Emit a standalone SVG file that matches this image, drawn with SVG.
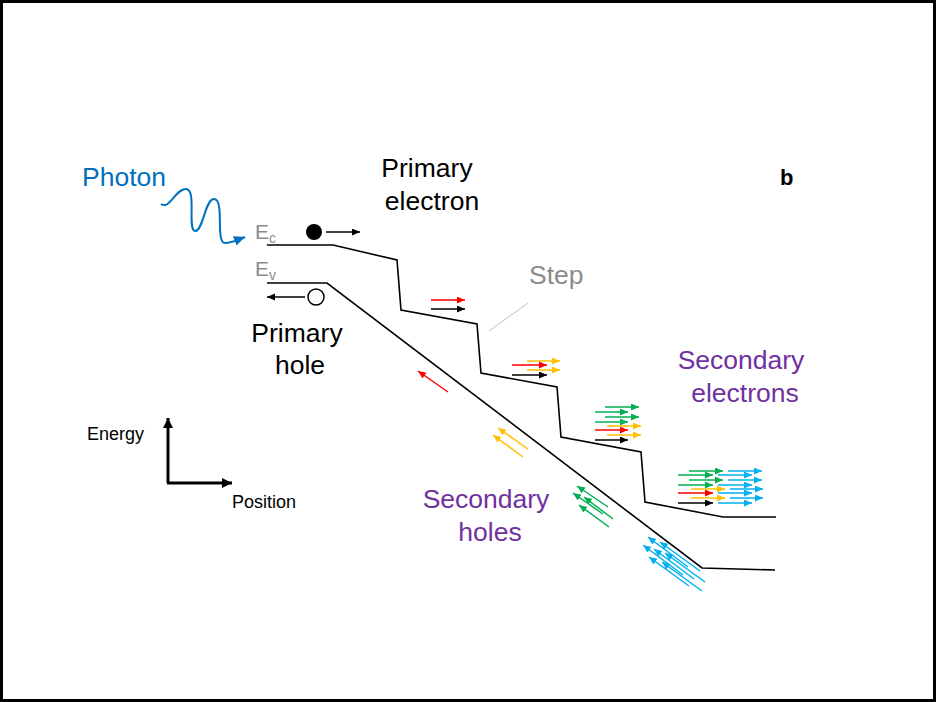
<svg xmlns="http://www.w3.org/2000/svg" width="936" height="702" viewBox="0 0 936 702">
<defs>
<style>
text{font-family:"Liberation Sans",Arial,sans-serif}
.band{fill:none;stroke:#000;stroke-width:1.6}
.a{fill:none;stroke-width:1.5}
.k{stroke:#000;marker-end:url(#mk)}
.r{stroke:#FF0000;marker-end:url(#mr)}
.y{stroke:#FFC000;marker-end:url(#my)}
.g{stroke:#00B050;marker-end:url(#mg)}
.b{stroke:#00B0F0;marker-end:url(#mb)}
.big{font-size:26.5px}
.purple{fill:#7030A0}
</style>
<marker id="mk" markerUnits="userSpaceOnUse" markerWidth="10" markerHeight="8" refX="8" refY="3.5" orient="auto"><path d="M0,0L8,3.5L0,7z" fill="#000"/></marker>
<marker id="mr" markerUnits="userSpaceOnUse" markerWidth="10" markerHeight="8" refX="8" refY="3.5" orient="auto"><path d="M0,0L8,3.5L0,7z" fill="#FF0000"/></marker>
<marker id="my" markerUnits="userSpaceOnUse" markerWidth="10" markerHeight="8" refX="8" refY="3.5" orient="auto"><path d="M0,0L8,3.5L0,7z" fill="#FFC000"/></marker>
<marker id="mg" markerUnits="userSpaceOnUse" markerWidth="10" markerHeight="8" refX="8" refY="3.5" orient="auto"><path d="M0,0L8,3.5L0,7z" fill="#00B050"/></marker>
<marker id="mb" markerUnits="userSpaceOnUse" markerWidth="10" markerHeight="8" refX="8" refY="3.5" orient="auto"><path d="M0,0L8,3.5L0,7z" fill="#00B0F0"/></marker>
<marker id="mph" markerUnits="userSpaceOnUse" markerWidth="14" markerHeight="12" refX="11" refY="5" orient="auto"><path d="M0,0L11,5L0,10z" fill="#0070C0"/></marker>
<marker id="max" markerUnits="userSpaceOnUse" markerWidth="12" markerHeight="12" refX="10" refY="5" orient="auto"><path d="M0,0L10,5L0,10z" fill="#000"/></marker>
</defs>
<rect x="1.5" y="1.5" width="933" height="699" fill="#fff" stroke="#000" stroke-width="3"/>

<g id="photon">
<text x="82" y="186" class="big" fill="#0070C0">Photon</text>
<path d="M161,204 C170,210 175,189 186,189 C197,189 187,230 195,231 C203,232 205,199 214,199 C225,199 215,243 225,243 C232,243 237,240 245,237" fill="none" stroke="#0070C0" stroke-width="2" marker-end="url(#mph)"/>
</g>

<g id="bands">
<path class="band" d="M267,245 L333,245 L397,260 L401,310 L477,324 L481,373 L557,387 L561,437 L641,452 L645,502 L723,517 L776,517"/>
<path class="band" d="M267,283 L327,283 L702,568 L775,570"/>
<text x="255" y="239" font-size="21" fill="#8c8c8c">E<tspan font-size="14" dy="4">c</tspan></text>
<text x="255" y="276" font-size="21" fill="#8c8c8c">E<tspan font-size="14" dy="4">v</tspan></text>
</g>

<g id="primary-electron">
<circle cx="314" cy="232" r="8" fill="#000"/>
<line class="a k" x1="326" y1="232" x2="360" y2="232"/>
<text x="427" y="177" class="big" text-anchor="middle">Primary</text>
<text x="432" y="210" class="big" text-anchor="middle">electron</text>
</g>

<g id="primary-hole">
<circle cx="316" cy="297" r="8" fill="#fff" stroke="#000" stroke-width="1.5"/>
<line class="a k" x1="305" y1="297" x2="267" y2="297"/>
<text x="297" y="342" class="big" text-anchor="middle">Primary</text>
<text x="300" y="374" class="big" text-anchor="middle">hole</text>
</g>

<g id="step">
<text x="529" y="284" class="big" fill="#8c8c8c">Step</text>
<line x1="489" y1="331" x2="528" y2="303" stroke="#bfbfbf" stroke-width="1"/>
</g>

<text id="label-b" x="780" y="185" font-size="22" font-weight="bold">b</text>

<g id="secondary-electrons">
<text x="741" y="369" class="big purple" text-anchor="middle">Secondary</text>
<text x="745" y="402" class="big purple" text-anchor="middle">electrons</text>
</g>
<g id="secondary-holes">
<text x="486" y="508" class="big purple" text-anchor="middle">Secondary</text>
<text x="490" y="541" class="big purple" text-anchor="middle">holes</text>
</g>

<g id="axes">
<line x1="168" y1="483" x2="168" y2="418" stroke="#000" stroke-width="3" marker-end="url(#max)"/>
<line x1="167" y1="483" x2="232" y2="483" stroke="#000" stroke-width="3" marker-end="url(#max)"/>
<text x="87" y="440" font-size="18">Energy</text>
<text x="232" y="508" font-size="18">Position</text>
</g>

<g id="connectors">
<line class="a r" x1="431" y1="300" x2="465" y2="300"/>
<line class="a k" x1="431" y1="309" x2="465" y2="309"/>
<line class="a y" x1="527" y1="361" x2="560" y2="361"/>
<line class="a r" x1="512" y1="365" x2="547" y2="365"/>
<line class="a y" x1="527" y1="370" x2="560" y2="370"/>
<line class="a k" x1="512" y1="375" x2="547" y2="375"/>
<line class="a g" x1="605" y1="407" x2="639" y2="407"/>
<line class="a g" x1="595" y1="412" x2="628" y2="412"/>
<line class="a g" x1="605" y1="417" x2="639" y2="417"/>
<line class="a g" x1="595" y1="422" x2="628" y2="422"/>
<line class="a y" x1="607" y1="426" x2="641" y2="426"/>
<line class="a r" x1="595" y1="430" x2="628" y2="430"/>
<line class="a y" x1="607" y1="435" x2="641" y2="435"/>
<line class="a k" x1="595" y1="440" x2="628" y2="440"/>
<line class="a g" x1="689" y1="471" x2="723" y2="471"/>
<line class="a b" x1="728" y1="471" x2="762" y2="471"/>
<line class="a g" x1="678" y1="475" x2="713" y2="475"/>
<line class="a b" x1="718" y1="475" x2="752" y2="475"/>
<line class="a g" x1="689" y1="480" x2="723" y2="480"/>
<line class="a b" x1="728" y1="480" x2="762" y2="480"/>
<line class="a g" x1="678" y1="485" x2="713" y2="485"/>
<line class="a b" x1="718" y1="485" x2="752" y2="485"/>
<line class="a y" x1="691" y1="489" x2="725" y2="489"/>
<line class="a b" x1="730" y1="489" x2="763" y2="489"/>
<line class="a r" x1="678" y1="493" x2="713" y2="493"/>
<line class="a b" x1="718" y1="493" x2="752" y2="493"/>
<line class="a y" x1="691" y1="498" x2="725" y2="498"/>
<line class="a b" x1="730" y1="498" x2="763" y2="498"/>
<line class="a k" x1="678" y1="503" x2="713" y2="503"/>
<line class="a b" x1="718" y1="503" x2="752" y2="503"/>
<line class="a r" x1="448" y1="392" x2="418" y2="371"/>
<line class="a y" x1="528" y1="449" x2="498" y2="428"/>
<line class="a y" x1="523" y1="457" x2="493" y2="435"/>
<line class="a g" x1="608" y1="507" x2="577" y2="486"/>
<line class="a g" x1="603" y1="514" x2="573" y2="493"/>
<line class="a g" x1="613" y1="519" x2="584" y2="497"/>
<line class="a g" x1="609" y1="527" x2="579" y2="505"/>
<line class="a b" x1="688" y1="567" x2="648" y2="537"/>
<line class="a b" x1="700" y1="571" x2="660" y2="542"/>
<line class="a b" x1="683" y1="575" x2="643" y2="545"/>
<line class="a b" x1="694" y1="579" x2="654" y2="549"/>
<line class="a b" x1="705" y1="582" x2="665" y2="553"/>
<line class="a b" x1="689" y1="586" x2="649" y2="557"/>
<line class="a b" x1="702" y1="591" x2="662" y2="562"/>
</g>
</svg>
